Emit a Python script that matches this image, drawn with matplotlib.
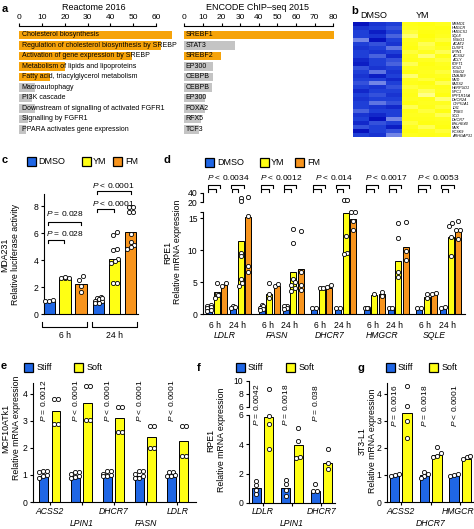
import numpy as np
import matplotlib
matplotlib.use('Agg')
import matplotlib.pyplot as plt
from matplotlib.transforms import blended_transform_factory as blend
from matplotlib.patches import Rectangle
from matplotlib.colors import LinearSegmentedColormap

plt.rcParams['font.family'] = ['Liberation Sans', 'DejaVu Sans']
plt.rcParams['mathtext.fontset'] = 'custom'
plt.rcParams['mathtext.it'] = 'Liberation Sans:italic'
plt.rcParams['mathtext.rm'] = 'Liberation Sans'
plt.rcParams['axes.linewidth'] = 0.8

# ---------------- data ----------------
reactome_terms = ['Cholesterol biosynthesis',
                  'Regulation of cholesterol biosynthesis by SREBP',
                  'Activation of gene expression by SREBP',
                  'Metabolism of lipids and lipoproteins',
                  'Fatty acid, triacylglycerol metabolism',
                  'Macroautophagy', 'PI3K cascade',
                  'Downstream of signalling of activated FGFR1',
                  'Signalling by FGFR1', 'PPARA activates gene expression']
reactome_values = [67, 62, 49.5, 20, 13.5, 6.9, 5.4, 6.9, 4, 2.9]
reactome_highlight = [True, True, True, True, True, False, False, False, False, False]

encode_terms = ['SREBF1', 'STAT3', 'SREBF2', 'EP300', 'CEBPB', 'CEBPB',
                'EP300', 'FOXA2', 'RFX5', 'TCF3']
encode_values = [80.5, 27.3, 19.8, 15.4, 15.4, 15.0, 11.0, 11.0, 8.8, 8.0]
encode_highlight = [True, False, True, False, False, False, False, False, False, False]

heat_conditions = ['DMSO', 'YM']
heat_genes = ['MSMO1', 'HMGCR', 'HMGCS1', 'SQLE', 'INSIG1', 'ACAT2', 'DUSP1',
              'LPIN1', 'ACSS2', 'ACLY', 'FDFT1', 'SC5D', 'INSIG2', 'DNAJB9',
              'MVD', 'FADS2', 'HERPUD1', 'NPC1', 'PPP1R15A', 'DHCR24',
              'CYP51A1', 'IDI1', 'TRIB3', 'SCD', 'DHCR7', 'BHLHE40', 'MVK',
              'PCSK9', 'ARHGAP31']
heat_values = [
    [-1.4, -1.1, -1.0, 1.1, 1.2, 1.0],
    [-1.1, -1.0, -0.9, 1.0, 1.1, 1.2],
    [-1.0, -1.3, -1.0, 0.9, 1.2, 1.1],
    [-1.0, -1.1, -0.8, 0.7, 1.3, 1.0],
    [-0.6, -1.4, -1.0, 1.0, 1.1, 0.9],
    [-1.0, -0.9, -1.1, 1.1, 0.8, 1.2],
    [-1.1, -1.0, -0.7, 1.2, 0.9, 1.0],
    [-1.0, -1.1, -1.0, 0.9, 1.0, 0.8],
    [-1.0, -0.8, -1.2, 1.0, 0.7, 1.1],
    [-1.2, -1.0, -0.9, 1.1, 1.0, 0.9],
    [-1.3, -1.0, -0.8, 0.8, 1.2, 1.0],
    [-0.9, -1.1, -1.0, 1.0, 1.1, 1.1],
    [-1.0, -0.7, -1.1, 1.2, 1.0, 0.9],
    [-1.1, -1.3, -1.0, 0.7, 1.1, 1.0],
    [-1.0, -1.0, -1.2, 1.0, 0.9, 1.2],
    [-0.9, -0.6, -1.0, 1.1, 1.2, 0.8],
    [-1.0, -1.1, -0.9, 0.9, 1.0, 1.1],
    [-1.2, -1.0, -1.0, 1.0, 0.8, 1.0],
    [-1.0, -0.9, -1.1, 1.1, 0.6, 1.2],
    [-1.1, -1.0, -1.0, 1.0, 1.1, 0.7],
    [-1.0, -0.7, -0.9, 1.2, 1.0, 1.0],
    [-1.0, -1.1, -1.2, 0.8, 1.1, 0.9],
    [-0.8, -1.0, -1.0, 1.1, 0.9, 1.2],
    [-1.1, -1.2, -1.0, 1.0, 1.0, 0.8],
    [-1.0, -1.4, -0.6, 1.1, 1.1, 1.0],
    [-1.2, -0.9, -1.0, 0.9, 1.2, 1.1],
    [-0.9, -1.0, -1.3, 1.0, 0.8, 1.2],
    [-1.4, -1.0, -0.9, 1.2, 1.0, 0.9],
    [-1.0, -1.1, -0.6, 1.0, 1.1, 1.0],
]

treatments = ['DMSO', 'YM', 'FM']
c_times = ['6 h', '24 h']
c_means = [[1.0, 2.7, 2.2], [1.0, 4.1, 6.1]]
c_points = [
    [[0.95, 1.0, 1.02], [2.65, 2.7, 2.7, 2.75], [2.8, 2.55, 2.05, 1.65]],
    [[1.25, 1.2, 1.1, 1.0, 0.95, 0.85, 0.8, 1.15],
     [6.1, 5.85, 4.8, 4.75, 4.05, 3.95, 3.8, 2.3, 2.3],
     [7.95, 7.9, 7.6, 7.6, 5.95, 5.35, 5.1, 5.0, 4.85]],
]
c_pvals = [['P = 0.028', 'P = 0.028'], ['P < 0.0001', 'P < 0.0001']]

d_genes = ['LDLR', 'FASN', 'DHCR7', 'HMGCR', 'SQLE']
d_times = ['6 h', '24 h']
d_means = [
    [1.2, 3.4, 4.5, 1.1, 11.4, 15.2],
    [1.2, 3.2, 4.4, 1.1, 6.5, 7.0],
    [1.0, 3.9, 4.0, 1.0, 15.8, 14.8],
    [1.0, 3.0, 3.1, 1.0, 8.3, 10.5],
    [1.0, 2.7, 3.1, 1.0, 12.1, 13.1],
]
d_points = [
    [[1.4, 1.25, 1.1, 0.9, 0.7, 0.5], [4.8, 3.2, 2.9, 2.5], [4.8, 4.4],
     [1.2, 1.1, 1.0], [29, 22, 9.6, 9.0, 5.4, 4.9, 4.4], [31, 15.3, 7.5, 6.6]],
    [[1.4, 1.2, 1.0, 0.8, 0.6], [4.8, 3.1, 2.5], [4.4, 4.7],
     [1.3, 1.2, 1.0, 0.8], [13.3, 11.1, 5.4, 5.0, 4.5, 4.0, 3.6], [13.0, 6.6, 4.5, 3.7]],
    [[1.0, 1.0], [4.0, 4.1], [4.2, 4.6],
     [1.0, 1.0], [25, 25, 12.2, 9.6, 9.3], [15.9, 15.9, 14.6, 13.1]],
    [[1.0, 1.0, 1.0], [3.2], [2.8, 3.4],
     [1.0, 1.0], [14.2, 11.8, 6.5, 5.8], [14.3, 9.8, 8.4]],
    [[1.0, 1.0], [3.1, 2.5], [3.2, 3.3],
     [1.0, 1.1], [13.8, 14.2, 12.0, 9.0], [14.6, 13.1, 13.1, 11.7]],
]
d_pvals = ['P < 0.0034', 'P < 0.0012', 'P < 0.014', 'P < 0.0017', 'P < 0.0053']
d_yticks_low = [0, 5, 10, 15]
d_yticks_high = [20, 40]

stiffness = ['Stiff', 'Soft']
e_genes = ['ACSS2', 'LPIN1', 'DHCR7', 'FASN', 'LDLR']
e_stiff_means = [0.95, 0.95, 0.95, 0.95, 0.92]
e_soft_means = [3.35, 3.65, 3.1, 2.4, 2.25]
e_stiff_points = [[1.15, 1.15, 1.1, 1.0, 0.95, 0.9],
                  [1.1, 1.1, 1.05, 0.95, 0.92, 0.9],
                  [1.15, 1.15, 1.05, 1.0, 0.95, 0.95],
                  [1.15, 1.15, 1.05, 0.95, 0.9, 0.88],
                  [1.1, 1.1, 1.0, 0.95, 0.95]]
e_soft_points = [[3.8, 3.8, 2.9, 2.9], [4.3, 4.3, 3.05, 3.05], [3.5, 3.5, 2.6, 2.6],
                 [2.8, 2.8, 2.0, 2.0], [2.8, 2.8, 1.7, 1.7]]
e_pvals = ['P = 0.0012', 'P < 0.0001', 'P < 0.0001', 'P < 0.0001', 'P < 0.0001']

f_genes = ['LDLR', 'LPIN1', 'DHCR7']
f_stiff_means = [1.05, 1.05, 0.85]
f_soft_means = [5.85, 3.95, 2.7]
f_stiff_points = [[1.5, 1.25, 0.9, 0.6], [1.6, 1.3, 0.9, 0.5], [1.3, 0.8, 0.8]]
f_soft_points = [[8.7, 5.9, 5.4, 3.7], [5.1, 4.2, 3.15, 3.05], [3.7, 2.7, 2.3]]
f_pvals = ['P = 0.0042', 'P = 0.0018', 'P = 0.038']

g_genes = ['ACSS2', 'DHCR7', 'HMGCR']
g_stiff_means = [1.0, 1.0, 1.0]
g_soft_means = [3.3, 1.75, 1.6]
g_stiff_points = [[0.95, 1.0, 1.05], [1.1, 1.05, 0.95, 0.9], [0.95, 1.0, 1.05]]
g_soft_points = [[4.3, 3.55, 3.0, 2.35], [2.05, 1.8, 1.7, 1.65], [1.65, 1.6, 1.7]]
g_pvals = ['P = 0.0016', 'P = 0.0018', 'P < 0.0001']

# ---------------- helpers ----------------
W, H = 474, 529
fig = plt.figure(figsize=(W / 100, H / 100), dpi=100)

BLUE = '#1f66e5'
YELLOW = '#ffff14'
ORANGE = '#f7941d'
A_ORANGE = '#f6a30a'
A_GRAY = '#c4c4c4'
TREAT_COLORS = [BLUE, YELLOW, ORANGE]
FS = 6.2


def fx(x):
    return x / W


def fy(y):
    return 1 - y / H


def axes_px(x0, y0, x1, y1):
    return fig.add_axes([fx(x0), fy(y1), (x1 - x0) / W, (y1 - y0) / H])


def ptxt(s):
    return s.replace('P', '$P$', 1)


def swarm(vals, ypu, xpu, maxrow=3, diam=4.0):
    vals = np.asarray(vals, float)
    order = np.argsort(vals, kind='stable')
    groups, cur = [], [order[0]]
    for i in order[1:]:
        if (vals[i] - vals[cur[-1]]) * ypu < diam * 0.85 and len(cur) < maxrow:
            cur.append(i)
        else:
            groups.append(cur)
            cur = [i]
    groups.append(cur)
    offs = np.zeros(len(vals))
    for gr in groups:
        k = len(gr)
        for j, idx in enumerate(gr):
            offs[idx] = (j - (k - 1) / 2) * diam * 0.95 / xpu
    return offs


def dots(ax, xs, ys):
    ax.scatter(xs, ys, s=9, facecolor='white', edgecolor='black',
               linewidth=0.6, zorder=3, clip_on=False)


def bars_points(ax, xs, means, pts, colors, width, ypu, xpu, maxrow=3,
                ax_hi=None, split=None):
    ax.bar(xs, means, width=width, color=colors, edgecolor='black',
           linewidth=0.7, zorder=2)
    for x, p in zip(xs, pts):
        p = np.asarray(p, float)
        offs = swarm(p, ypu, xpu, maxrow)
        if ax_hi is None:
            dots(ax, x + offs, p)
        else:
            lo = p <= split
            dots(ax, x + offs[lo], p[lo])
            if (~lo).any():
                dots(ax_hi, x + offs[~lo], p[~lo])


def bracket(ax, x0, x1, ypx, drop=3):
    tr = blend(ax.transData, fig.transFigure)
    ax.plot([x0, x0, x1, x1], [fy(ypx + drop), fy(ypx), fy(ypx), fy(ypx + drop)],
            color='black', lw=0.8, transform=tr, clip_on=False)


def text_px(ax, x, ypx, s, **kw):
    tr = blend(ax.transData, fig.transFigure)
    ax.text(x, fy(ypx), s, transform=tr, **kw)


def legend(items, ypx, size=9):
    for label, color, xsq, xt in items:
        fig.add_artist(Rectangle((fx(xsq), fy(ypx + size / 2)), size / W, size / H,
                                 transform=fig.transFigure, facecolor=color,
                                 edgecolor='black', lw=0.9))
        fig.text(fx(xt), fy(ypx), label, ha='left', va='center', fontsize=6.5)


def basic_style(ax):
    ax.spines['top'].set_visible(False)
    ax.spines['right'].set_visible(False)
    ax.tick_params(axis='both', labelsize=FS, length=2.5, width=0.8, pad=1.5)


def make_break(lo_top, gap, hi_start, slope):
    edge = lo_top + gap + (lo_top - hi_start) * slope

    def fwd(v):
        v = np.asarray(v, float)
        return np.where(v <= lo_top, v, lo_top + gap + (v - hi_start) * slope)

    def inv(u):
        u = np.asarray(u, float)
        return np.where(u <= lo_top, u,
                        np.where(u < edge, lo_top, hi_start + (u - lo_top - gap) / slope))
    return fwd, inv


def panel_label(s, x, y):
    fig.text(fx(x), fy(y), s, fontsize=8, fontweight='bold', ha='left', va='center')


def ylabel_px(s, x, y):
    fig.text(fx(x), fy(y), s, rotation=90, ha='center', va='center',
             multialignment='center', fontsize=6.3, linespacing=1.15)


ROW1, ROW2 = 511, 523

# ---------------- panel a ----------------
def enrich(ax, terms, vals, hl, xmax, ticks, bound, title, title_x, toff):
    ys = np.arange(len(terms))
    colors = [A_ORANGE if h else A_GRAY for h in hl]
    ax.barh(ys, vals, height=0.8, color=colors, edgecolor='none')
    for y, t in zip(ys, terms):
        ax.text(toff, y, t, va='center', ha='left', fontsize=5)
    ax.set_xlim(0, xmax)
    ax.set_ylim(len(terms) - 0.38, -0.857)
    ax.xaxis.tick_top()
    ax.set_xticks(ticks)
    for s in ['right', 'bottom', 'left']:
        ax.spines[s].set_visible(False)
    ax.spines['top'].set_bounds(0, bound)
    ax.set_yticks([])
    ax.tick_params(axis='x', labelsize=6, length=2.5, width=0.8, pad=1)
    fig.text(fx(title_x), fy(7), title, ha='center', va='center', fontsize=6.5)


ax = axes_px(19.3, 26, 19.3 + 67 * 2.28, 136)
enrich(ax, reactome_terms, reactome_values, reactome_highlight, 67,
       [0, 10, 20, 30, 40, 50, 60], 60, 'Reactome 2016', 94, 1.0)
ax = axes_px(184.3, 26, 184.3 + 81 * 1.8625, 136)
enrich(ax, encode_terms, encode_values, encode_highlight, 81,
       [0, 10, 20, 30, 40, 50, 60, 70, 80], 80, 'ENCODE ChIP\u2013seq 2015', 258, 0.8)
panel_label('a', 2, 9)

# ---------------- panel b ----------------
cmap = LinearSegmentedColormap.from_list('by', [
    (0.0, '#0008b8'), (0.167, '#2040d8'), (0.333, '#8898ea'), (0.5, '#ffffff'),
    (0.667, '#ffffa8'), (0.833, '#ffff20'), (1.0, '#ffff00')])
ax = axes_px(353, 22, 451, 137)
ax.imshow(np.array(heat_values), cmap=cmap, vmin=-1.5, vmax=1.5,
          aspect='auto', interpolation='nearest')
ax.set_xticks([])
ax.yaxis.tick_right()
ax.set_yticks(range(len(heat_genes)))
ax.set_yticklabels(heat_genes, fontsize=2.7, style='italic')
ax.tick_params(axis='y', length=0, pad=1)
for s in ax.spines.values():
    s.set_visible(False)
fig.text(fx(374), fy(15), heat_conditions[0], ha='center', va='center', fontsize=6.5)
fig.text(fx(423), fy(15), heat_conditions[1], ha='center', va='center', fontsize=6.5)
panel_label('b', 351, 11)

# ---------------- panel c ----------------
panel_label('c', 2, 160)
legend([(treatments[0], BLUE, 27, 38), (treatments[1], YELLOW, 82, 93),
        (treatments[2], ORANGE, 113, 125)], 161.5)
ax = axes_px(44, 194, 138, 314)
basic_style(ax)
for gi in range(len(c_times)):
    xs = [gi * 3.1 + ci for ci in range(3)]
    bars_points(ax, xs, c_means[gi], c_points[gi], TREAT_COLORS, 0.7, 13.5, 16, 3)
ax.set_xlim(-0.31, 5.56)
ax.set_ylim(0, 8.9)
ax.set_yticks([0, 2, 4, 6, 8])
ax.set_xticks([])
text_px(ax, 1.0, 213, ptxt(c_pvals[0][0]), ha='center', va='center', fontsize=6)
bracket(ax, -0.06, 2.0, 221.7)
text_px(ax, 1.0, 233, ptxt(c_pvals[0][1]), ha='center', va='center', fontsize=6)
bracket(ax, -0.06, 0.94, 240)
text_px(ax, 4.0, 185, ptxt(c_pvals[1][0]), ha='center', va='center', fontsize=6)
bracket(ax, 3.0, 5.1, 190.7)
text_px(ax, 4.0, 203, ptxt(c_pvals[1][1]), ha='center', va='center', fontsize=6)
bracket(ax, 3.0, 4.06, 209)
bracket(ax, -0.42, 2.39, 326.7, drop=-5)
bracket(ax, 2.71, 5.48, 326.7, drop=-5)
text_px(ax, 1.0, 336, c_times[0], ha='center', va='center', fontsize=FS)
text_px(ax, 4.1, 336, c_times[1], ha='center', va='center', fontsize=FS)
ylabel_px('MDA231\nRelative luciferase activity', 10, 255)

# ---------------- panel d (broken y axis: two stacked axes) ----------------
panel_label('d', 164, 160)
legend([(treatments[0], BLUE, 205, 217), (treatments[1], YELLOW, 260, 271),
        (treatments[2], ORANGE, 295, 307)], 162.5)
ax = axes_px(203, 211.6, 465, 314)
axh = axes_px(203, 193, 465, 202)
basic_style(ax)
basic_style(axh)
axh.patch.set_visible(False)
axh.spines['bottom'].set_visible(False)
for gi in range(len(d_genes)):
    xs = [gi * 7 + p for p in (0, 1, 2, 3.2, 4.2, 5.2)]
    bars_points(ax, xs, d_means[gi], d_points[gi], TREAT_COLORS * 2, 0.8, 6.4, 7.5, 2,
                ax_hi=axh, split=16.5)
    text_px(ax, gi * 7 + 2.6, 177, ptxt(d_pvals[gi]), ha='center', va='center', fontsize=6)
    bracket(ax, gi * 7 - 0.1, gi * 7 + 1.5, 185)
    bracket(ax, gi * 7 - 0.1, gi * 7 + 0.95, 189)
    bracket(ax, gi * 7 + 2.95, gi * 7 + 4.6, 185)
    bracket(ax, gi * 7 + 3.0, gi * 7 + 3.9, 189)
    text_px(ax, gi * 7 + 0.85, 325, d_times[0], ha='center', va='center', fontsize=FS)
    text_px(ax, gi * 7 + 3.75, 325, d_times[1], ha='center', va='center', fontsize=FS)
    text_px(ax, gi * 7 + 2.05, 336, d_genes[gi], ha='center', va='center',
            fontsize=FS, style='italic')
for a in (ax, axh):
    a.set_xlim(-0.8, 34.13)
    a.set_xticks([])
ax.set_ylim(0, 16)
ax.set_yticks(d_yticks_low + [16])
ax.set_yticklabels([str(v) for v in d_yticks_low] + [''])
axh.set_ylim(20, 40)
axh.set_yticks(d_yticks_high)
axh.set_yticklabels([str(v) for v in d_yticks_high])
ylabel_px('RPE1\nRelative mRNA expression', 172.5, 252)


# ---------------- panels e, f, g ----------------
def stiff_soft(ax, genes, sm, so, sp, op, pv, off, width, ypu, xpu, ptop, rows, lab_shift=0.0):
    n = len(genes)
    xs_s = [i - off for i in range(n)]
    xs_o = [i + off for i in range(n)]
    bars_points(ax, xs_s, sm, sp, [BLUE] * n, width, ypu, xpu, 3)
    bars_points(ax, xs_o, so, op, [YELLOW] * n, width, ypu, xpu, 3)
    for i in range(n):
        text_px(ax, xs_s[i], ptop, ptxt(pv[i]), rotation=90, ha='center',
                va='top', fontsize=6)
        shift = lab_shift if i == n - 1 else 0.0
        text_px(ax, i + shift, ROW1 if rows[i] == 0 else ROW2, genes[i], ha='center',
                va='center', fontsize=FS, style='italic')
    ax.set_xticks(range(n))
    ax.set_xticklabels([])
    ax.tick_params(axis='x', length=2)


panel_label('e', 1, 366)
legend([(stiffness[0], BLUE, 24, 37), (stiffness[1], YELLOW, 74, 87)], 367.5)
ax = axes_px(33, 383, 196, 502)
basic_style(ax)
stiff_soft(ax, e_genes, e_stiff_means, e_soft_means, e_stiff_points, e_soft_points,
           e_pvals, 0.2, 0.28, 27, 32, 380, [0, 1, 0, 1, 0])
ax.set_xlim(-0.52, 4.58)
ax.set_ylim(0, 4.4)
ax.set_yticks([0, 1, 2, 3, 4])
ylabel_px('MCF10ATk1\nRelative mRNA expression', 11, 428)

panel_label('f', 197, 368)
legend([(stiffness[0], BLUE, 236, 248), (stiffness[1], YELLOW, 286, 299)], 367.5)
fwd_f, inv_f = make_break(6, 0.55, 6, 0.44)
ax = axes_px(249, 381, 335, 503)
ax.set_yscale('function', functions=(fwd_f, inv_f))
basic_style(ax)
stiff_soft(ax, f_genes, f_stiff_means, f_soft_means, f_stiff_points, f_soft_points,
           f_pvals, 0.21, 0.3, 14.7, 29.5, 384, [0, 1, 0])
ax.set_xlim(-0.46, 2.46)
ax.set_ylim(0, 10)
ax.set_yticks([0, 2, 4, 6, 6.0001, 8, 10])
ax.set_yticklabels(['0', '2', '4', '6', '6', '8', '10'])
ax.spines['left'].set_bounds(0, 6)
ax.plot([0, 0], [6.0001, 10], transform=blend(ax.transAxes, ax.transData),
        color='black', lw=0.8, clip_on=False)
ylabel_px('RPE1\nRelative mRNA expression', 216, 440)

panel_label('g', 358, 368)
legend([(stiffness[0], BLUE, 386, 398), (stiffness[1], YELLOW, 429, 442)], 367.5)
ax = axes_px(387, 383, 474, 502)
basic_style(ax)
stiff_soft(ax, g_genes, g_stiff_means, g_soft_means, g_stiff_points, g_soft_points,
           g_pvals, 0.21, 0.32, 27, 29.7, 385, [0, 1, 0], lab_shift=-0.08)
ax.set_xlim(-0.47, 2.46)
ax.set_ylim(0, 4.4)
ax.set_yticks([0, 1, 2, 3, 4])
ylabel_px('3T3-L1\nRelative mRNA expression', 367, 441)

fig.savefig('out.png', dpi=100)
